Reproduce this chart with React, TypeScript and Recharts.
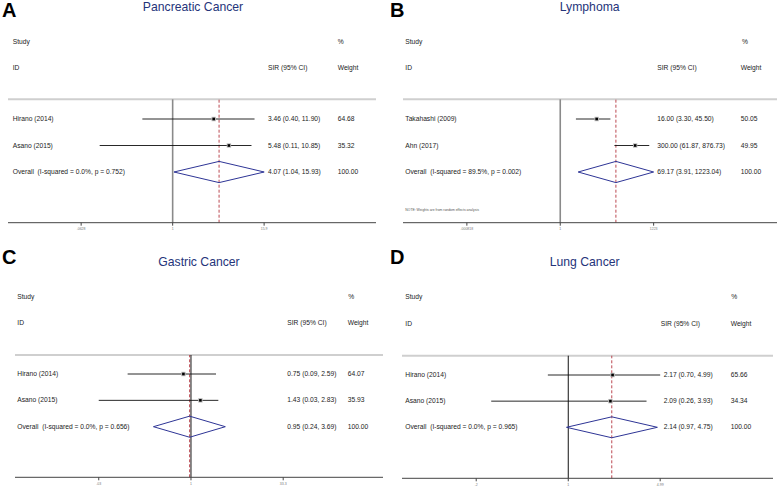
import React from "react";
import { ComposedChart, XAxis, YAxis, Scatter, ReferenceLine } from "recharts";

// A – Pancreatic Cancer
const pancStudies = ["Hirano (2014)", "Asano (2015)"];
const pancSir = [3.46, 5.48];
const pancLower = [0.4, 0.11];
const pancUpper = [11.9, 10.85];
const pancWeight = ["64.68", "35.32"];
const pancOverall = [4.07, 1.04, 15.93];
const pancOverallLabel = "Overall  (I-squared = 0.0%, p = 0.752)";
const pancTicks = [0.0628, 1, 15.9];
const pancTickLabels = [".0628", "1", "15.9"];

// B – Lymphoma
const lymStudies = ["Takahashi (2009)", "Ahn (2017)"];
const lymSir = [16.0, 300.0];
const lymLower = [3.3, 61.87];
const lymUpper = [45.5, 876.73];
const lymWeight = ["50.05", "49.95"];
const lymOverall = [69.17, 3.91, 1223.04];
const lymOverallLabel = "Overall  (I-squared = 89.5%, p = 0.002)";
const lymTicks = [0.000818, 1, 1223];
const lymTickLabels = [".000818", "1", "1223"];

// C – Gastric Cancer
const gasStudies = ["Hirano (2014)", "Asano (2015)"];
const gasSir = [0.75, 1.43];
const gasLower = [0.09, 0.03];
const gasUpper = [2.59, 2.83];
const gasWeight = ["64.07", "35.93"];
const gasOverall = [0.95, 0.24, 3.69];
const gasOverallLabel = "Overall  (I-squared = 0.0%, p = 0.656)";
const gasTicks = [0.03, 1, 33.3];
const gasTickLabels = [".03", "1", "33.3"];

// D – Lung Cancer
const lungStudies = ["Hirano (2014)", "Asano (2015)"];
const lungSir = [2.17, 2.09];
const lungLower = [0.7, 0.26];
const lungUpper = [4.99, 3.93];
const lungWeight = ["65.66", "34.34"];
const lungOverall = [2.14, 0.97, 4.75];
const lungOverallLabel = "Overall  (I-squared = 0.0%, p = 0.965)";
const lungTicks = [0.2, 1, 4.99];
const lungTickLabels = [".2", "1", "4.99"];

const FONT = "'Liberation Sans', Arial, sans-serif";
const TEXT = "#222";
const NAVY = "#25347a";
const DIAMOND = "#2e3596";
const RED = "#b3333d";

const fmt = (v: number) => v.toFixed(2);
const ciText = (e: number, l: number, u: number) => `${fmt(e)} (${fmt(l)}, ${fmt(u)})`;

function Txt({ x, y, children, size = 6.7, color = TEXT }: any) {
  return (
    <div
      style={{
        position: "absolute",
        left: x,
        top: y,
        transform: "translateY(-50%)",
        fontSize: size,
        lineHeight: 1,
        color,
        whiteSpace: "pre",
        fontFamily: FONT,
      }}
    >
      {children}
    </div>
  );
}

function ForestPanel(p: any) {
  const s = (p.rowY[2] - p.rowY[0]) / 2;
  const yMin = 1 - (p.rowY[0] - p.sepY) / s;
  const yMax = 3 + (p.axisY - p.rowY[2]) / s;
  const [oe, ol, ou] = p.overall;
  const dh = 0.4;
  const pts = p.sir.map((v: number, i: number) => ({ x: v, y: i + 1 }));

  return (
    <div style={{ position: "absolute", left: p.left, top: p.top, width: p.w, height: p.h }}>
      <div
        style={{
          position: "absolute",
          left: 2,
          top: p.letterY,
          fontSize: 20,
          fontWeight: 700,
          fontFamily: FONT,
          lineHeight: 1,
          color: "#000",
        }}
      >
        {p.letter}
      </div>
      <div
        style={{
          position: "absolute",
          left: p.titleCx,
          top: p.titleCy,
          transform: "translate(-50%, -50%)",
          fontSize: 12.2,
          lineHeight: 1,
          color: NAVY,
          fontFamily: FONT,
          whiteSpace: "nowrap",
        }}
      >
        {p.title}
      </div>

      <ComposedChart
        width={p.w}
        height={p.h}
        margin={{ top: p.sepY, left: p.axisX0, right: p.w - p.axisX1, bottom: p.h - p.axisY - 12 }}
        style={{ position: "absolute", left: 0, top: 0 }}
      >
        <XAxis
          type="number"
          dataKey="x"
          scale="log"
          domain={p.domain}
          allowDataOverflow
          ticks={p.ticks}
          interval={0}
          height={12}
          tickSize={3}
          axisLine={{ stroke: "#444", strokeWidth: 1 }}
          tickLine={{ stroke: "#444" }}
          tick={{ fontSize: 3.5, fill: "#777", fontFamily: FONT }}
          tickFormatter={(v: number, i: number) => p.tickLabels[i] ?? String(v)}
        />
        <YAxis type="number" dataKey="y" hide reversed domain={[yMin, yMax]} allowDataOverflow />
        <ReferenceLine y={yMin} stroke="#cfcfcf" strokeWidth={2} ifOverflow="visible" />
        <ReferenceLine x={1} stroke={p.nullColor} strokeWidth={p.nullWidth} ifOverflow="visible" />
        <ReferenceLine x={oe} stroke={RED} strokeWidth={0.9} strokeDasharray="3 2" ifOverflow="visible" />
        {p.sir.map((_: number, i: number) => (
          <ReferenceLine
            key={"ci" + i}
            segment={[
              { x: p.lower[i], y: i + 1 },
              { x: p.upper[i], y: i + 1 },
            ]}
            stroke="#111"
            strokeWidth={0.9}
            ifOverflow="visible"
          />
        ))}
        {[
          [ol, 3, oe, 3 - dh],
          [oe, 3 - dh, ou, 3],
          [ou, 3, oe, 3 + dh],
          [oe, 3 + dh, ol, 3],
        ].map((sg, i) => (
          <ReferenceLine
            key={"d" + i}
            segment={[
              { x: sg[0], y: sg[1] },
              { x: sg[2], y: sg[3] },
            ]}
            stroke={DIAMOND}
            strokeWidth={1}
            ifOverflow="visible"
          />
        ))}
        <Scatter
          data={pts}
          isAnimationActive={false}
          shape={(sp: any) => (
            <g>
              <rect x={sp.cx - 2.2} y={sp.cy - 2.2} width={4.4} height={4.4} fill="#bbb" />
              <rect x={sp.cx - 1.3} y={sp.cy - 1.3} width={2.6} height={2.6} fill="#000" />
            </g>
          )}
        />
      </ComposedChart>

      <Txt x={p.studyX} y={p.headStudyY}>Study</Txt>
      <Txt x={p.studyX} y={p.headIdY}>ID</Txt>
      <Txt x={p.ciHeadX} y={p.headIdY}>SIR (95% CI)</Txt>
      <Txt x={p.pctX} y={p.headStudyY}>%</Txt>
      <Txt x={p.wX} y={p.headIdY}>Weight</Txt>
      {p.studies.map((st: string, i: number) => (
        <React.Fragment key={st}>
          <Txt x={p.studyX} y={p.rowY[i]}>{st}</Txt>
          <Txt x={p.ciX} y={p.rowY[i]}>{ciText(p.sir[i], p.lower[i], p.upper[i])}</Txt>
          <Txt x={p.wX} y={p.rowY[i]}>{p.weight[i]}</Txt>
        </React.Fragment>
      ))}
      <Txt x={p.studyX} y={p.rowY[2]}>{p.overallLabel}</Txt>
      <Txt x={p.ciX} y={p.rowY[2]}>{ciText(oe, ol, ou)}</Txt>
      <Txt x={p.wX} y={p.rowY[2]}>100.00</Txt>
      {p.note && (
        <Txt x={p.studyX} y={p.noteY} size={3.4} color="#555">
          {p.note}
        </Txt>
      )}
    </div>
  );
}

export default function App() {
  return (
    <div
      style={{
        position: "absolute",
        left: 0,
        top: 0,
        width: 777,
        height: 489,
        background: "#fff",
        overflow: "hidden",
      }}
    >
      <ForestPanel
        left={0} top={0} w={388} h={245}
        letter="A" letterY={0} title="Pancreatic Cancer" titleCx={193} titleCy={7}
        studyX={12.7} headStudyY={42} headIdY={68} sepY={99.3} rowY={[119, 145.7, 172]}
        axisY={222.7} axisX0={8} axisX1={376} domain={[Math.exp(-4.98), Math.exp(6.15)]}
        ciX={268} ciHeadX={268} wX={337.7} pctX={337.7} nullColor="#8a8a8a" nullWidth={1.6}
        studies={pancStudies} sir={pancSir} lower={pancLower} upper={pancUpper}
        weight={pancWeight} overall={pancOverall} overallLabel={pancOverallLabel}
        ticks={pancTicks} tickLabels={pancTickLabels}
      />
      <ForestPanel
        left={388} top={0} w={389} h={245}
        letter="B" letterY={0} title="Lymphoma" titleCx={201.7} titleCy={7}
        studyX={17.3} headStudyY={41.7} headIdY={67.7} sepY={99.3} rowY={[119, 145.7, 172]}
        axisY={222.7} axisX0={15} axisX1={389} domain={[Math.exp(-11.97), Math.exp(16.5)]}
        ciX={269.3} ciHeadX={269.3} wX={352.7} pctX={354} nullColor="#8a8a8a" nullWidth={1.6}
        studies={lymStudies} sir={lymSir} lower={lymLower} upper={lymUpper}
        weight={lymWeight} overall={lymOverall} overallLabel={lymOverallLabel}
        ticks={lymTicks} tickLabels={lymTickLabels}
        note="NOTE: Weights are from random effects analysis" noteY={211}
      />
      <ForestPanel
        left={0} top={245} w={388} h={244}
        letter="C" letterY={2} title="Gastric Cancer" titleCx={199} titleCy={17}
        studyX={17.3} headStudyY={51.7} headIdY={77.7} sepY={110} rowY={[129, 155, 181.7]}
        axisY={232.3} axisX0={15} axisX1={383} domain={[Math.exp(-6.69), Math.exp(7.3)]}
        ciX={287.3} ciHeadX={287.3} wX={347.7} pctX={348.3} nullColor="#111" nullWidth={1}
        studies={gasStudies} sir={gasSir} lower={gasLower} upper={gasUpper}
        weight={gasWeight} overall={gasOverall} overallLabel={gasOverallLabel}
        ticks={gasTicks} tickLabels={gasTickLabels}
      />
      <ForestPanel
        left={388} top={245} w={389} h={244}
        letter="D" letterY={2} title="Lung Cancer" titleCx={196.7} titleCy={17}
        studyX={17.3} headStudyY={52.3} headIdY={78.7} sepY={110.7} rowY={[130, 155.7, 182.3]}
        axisY={233.3} axisX0={14} axisX1={385} domain={[Math.exp(-2.907), Math.exp(3.58)]}
        ciX={275.7} ciHeadX={272.7} wX={342.7} pctX={343.3} nullColor="#111" nullWidth={1}
        studies={lungStudies} sir={lungSir} lower={lungLower} upper={lungUpper}
        weight={lungWeight} overall={lungOverall} overallLabel={lungOverallLabel}
        ticks={lungTicks} tickLabels={lungTickLabels}
      />
    </div>
  );
}
